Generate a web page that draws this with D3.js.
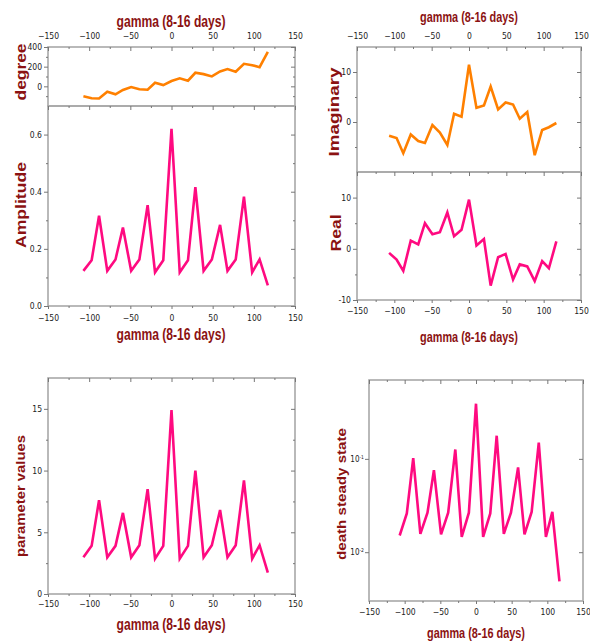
<!DOCTYPE html>
<html>
<head>
<meta charset="utf-8">
<script src="https://cdnjs.cloudflare.com/ajax/libs/d3/7.8.5/d3.min.js"></script>
<title>gamma panels</title>
<style>
    html, body { margin: 0; background: #fff; }
    svg { display: block; }
    .tick text { font-family: "Liberation Sans Narrow", "DejaVu Sans Condensed", "Liberation Sans", sans-serif; font-size: 8.5px; fill: #222; }
    .tick line { stroke: #777; stroke-width: 1; }
    .domain { display: none; }
    .ttl { font-family: "Liberation Sans", Arial, sans-serif; font-weight: bold; fill: #8b1212; }
</style>
</head>
<body>
<svg width="590" height="641"></svg>
<script>
// gamma (x) shared by all panels
const gamma = [-107,-97,-88,-78,-68,-59,-49,-39,-29,-20,-10,0,10,20,29,39,49,59,68,78,88,98,107,117];
const degree = [-101,-121,-124,-54,-81,-37,-7,-30,-34,37,13,54,81,57,138,124,101,151,175,148,229,215,195,350];
const amplitude = [0.123,0.16,0.316,0.123,0.163,0.275,0.123,0.163,0.353,0.118,0.16,0.62,0.118,0.16,0.416,0.123,0.163,0.284,0.123,0.163,0.383,0.118,0.163,0.072];
const imaginary = [-2.76,-3.2,-6.25,-2.5,-3.8,-4.2,-0.6,-2.1,-4.6,1.65,1.05,11.45,2.83,3.3,7.1,2.5,3.9,3.5,0.66,2.0,-6.65,-1.6,-1.05,-0.2];
const real = [-0.8,-2.1,-4.3,1.6,0.86,5.0,2.85,3.25,7.1,2.45,3.7,9.6,0.66,1.9,-7.2,-1.65,-1.0,-6.0,-3.05,-3.45,-6.3,-2.4,-3.8,1.45];
const paramValues = [2.97,3.9,7.6,2.97,3.9,6.57,2.97,3.95,8.5,2.86,3.9,14.9,2.86,3.9,10.0,2.97,3.95,6.8,2.97,3.95,9.2,2.86,3.95,1.73];
const deathSteady = [0.0151,0.026,0.1017,0.0157,0.0265,0.0757,0.0155,0.0265,0.126,0.0146,0.0265,0.39,0.0146,0.026,0.177,0.0157,0.0265,0.081,0.0155,0.027,0.149,0.0146,0.027,0.00486];

// tick labels
const xTicks = [-150,-100,-50,0,50,100,150];
const xMinor = [-125,-75,-25,25,75,125];
const degreeTicks = [0,200,400], degreeMinor = [-100,100,300];
const ampTicks = [0.0,0.2,0.4,0.6], ampMinor = [0.1,0.3,0.5];
const imagTicks = [0,10], imagMinor = [-5,5];
const realTicks = [-10,0,10], realMinor = [-5,5];
const paramTicks = [0,5,10,15], paramMinor = [2.5,7.5,12.5];
const deathTicks = [0.01,0.1];

const ORANGE = "#ff8000", PINK = "#ff0a80";
const svg = d3.select("svg");

function panel(p) {
    const x = d3.scaleLinear().domain([-150,150]).range([p.x0,p.x1]);
    const y = (p.log ? d3.scaleLog() : d3.scaleLinear()).domain(p.yDomain).range([p.y1,p.y0]);
    const g = svg.append("g");

    g.append("rect")
        .attr("x", p.x0).attr("y", p.y0)
        .attr("width", p.x1 - p.x0).attr("height", p.y1 - p.y0)
        .attr("fill", "none").attr("stroke", "#a8a8a8").attr("stroke-width", 1.6);

    const line = d3.line().x((d, i) => x(gamma[i])).y(d => y(d));
    g.append("path").datum(p.values)
        .attr("d", line).attr("fill", "none")
        .attr("stroke", p.color).attr("stroke-width", 2.6)
        .attr("stroke-linejoin", "miter");

    // y axis (left labelled, outward; right inward)
    const fmt = p.yFormat || (d => d);
    g.append("g").attr("transform", `translate(${p.x0},0)`)
        .call(d3.axisLeft(y).tickValues(p.yTicks).tickFormat(fmt).tickSize(4).tickPadding(2));
    g.append("g").attr("transform", `translate(${p.x1},0)`)
        .call(d3.axisLeft(y).tickValues(p.yTicks).tickFormat("").tickSize(4));
    if (p.yMinor) {
        g.append("g").attr("transform", `translate(${p.x0},0)`)
            .call(d3.axisLeft(y).tickValues(p.yMinor).tickFormat("").tickSize(2));
        g.append("g").attr("transform", `translate(${p.x1},0)`)
            .call(d3.axisLeft(y).tickValues(p.yMinor).tickFormat("").tickSize(2));
    }

    // x axes
    if (p.topLabels) {
        g.append("g").attr("transform", `translate(0,${p.y0})`)
            .call(d3.axisTop(x).tickValues(xTicks).tickSize(-4).tickPadding(8));
    } else {
        g.append("g").attr("transform", `translate(0,${p.y0})`)
            .call(d3.axisBottom(x).tickValues(xTicks).tickFormat("").tickSize(4));
    }
    g.append("g").attr("transform", `translate(0,${p.y0})`)
        .call(d3.axisBottom(x).tickValues(xMinor).tickFormat("").tickSize(2));
    if (p.bottomPad !== undefined) {
        g.append("g").attr("transform", `translate(0,${p.y1})`)
            .call(d3.axisBottom(x).tickValues(xTicks).tickSize(3).tickPadding(p.bottomPad));
        g.append("g").attr("transform", `translate(0,${p.y1})`)
            .call(d3.axisBottom(x).tickValues(xMinor).tickFormat("").tickSize(2));
    }
    return g;
}

function title(txt, cx, cy, len, size, rotate) {
    const t = svg.append("text").attr("class", "ttl")
        .attr("text-anchor", "middle")
        .attr("font-size", size)
        .attr("textLength", len).attr("lengthAdjust", "spacingAndGlyphs")
        .text(txt);
    if (rotate) t.attr("transform", `translate(${cx},${cy}) rotate(-90)`);
    else t.attr("x", cx).attr("y", cy);
}

// top-left
panel({x0:48, x1:295, y0:47, y1:106, yDomain:[-200,400], yTicks:degreeTicks, yMinor:degreeMinor, values:degree, color:ORANGE, topLabels:true});
panel({x0:48, x1:295, y0:106, y1:306, yDomain:[0,0.7], yTicks:ampTicks, yMinor:ampMinor, values:amplitude, color:PINK, bottomPad:6, yFormat:d3.format(".1f")});
// top-right
panel({x0:357, x1:581, y0:47, y1:172, yDomain:[-10,15], yTicks:imagTicks, yMinor:imagMinor, values:imaginary, color:ORANGE, topLabels:true});
panel({x0:357, x1:581, y0:172, y1:300, yDomain:[-10,15], yTicks:realTicks, yMinor:realMinor, values:real, color:PINK, bottomPad:5});
// bottom-left
panel({x0:48, x1:295, y0:378, y1:594, yDomain:[0,17.5], yTicks:paramTicks, yMinor:paramMinor, values:paramValues, color:PINK, bottomPad:4});
// bottom-right (log)
panel({x0:369, x1:583, y0:380, y1:601, log:true, yDomain:[0.003,0.7], yTicks:deathTicks, values:deathSteady, color:PINK, bottomPad:5, yFormat:() => ""});
const ly = d3.scaleLog().domain([0.003,0.7]).range([601,380]);
deathTicks.forEach(v => {
    const t = svg.append("text")
        .attr("x", 364).attr("y", ly(v) + 3)
        .attr("text-anchor", "end")
        .style("font-family", "'Liberation Sans Narrow','DejaVu Sans Condensed',sans-serif")
        .style("font-size", "8px").style("fill", "#222");
    t.append("tspan").text("10");
    t.append("tspan").attr("dy", -3).style("font-size", "5px").text(Math.round(Math.log10(v)));
});

// x titles
title("gamma (8-16 days)", 171, 27, 109, 16);
title("gamma (8-16 days)", 171, 340, 109, 16);
title("gamma (8-16 days)", 469, 22, 98, 15);
title("gamma (8-16 days)", 469, 342, 98, 15);
title("gamma (8-16 days)", 171, 630, 109, 16);
title("gamma (8-16 days)", 476, 638, 98, 15);

// y titles
title("degree", 26, 72, 57, 14, true);
title("Amplitude", 26, 205, 86, 14, true);
title("Imaginary", 339, 112, 89, 14, true);
title("Real", 341, 233, 37, 14, true);
title("parameter values", 25, 496, 122, 12, true);
title("death steady state", 346, 494, 132, 12, true);
</script>
</body>
</html>
